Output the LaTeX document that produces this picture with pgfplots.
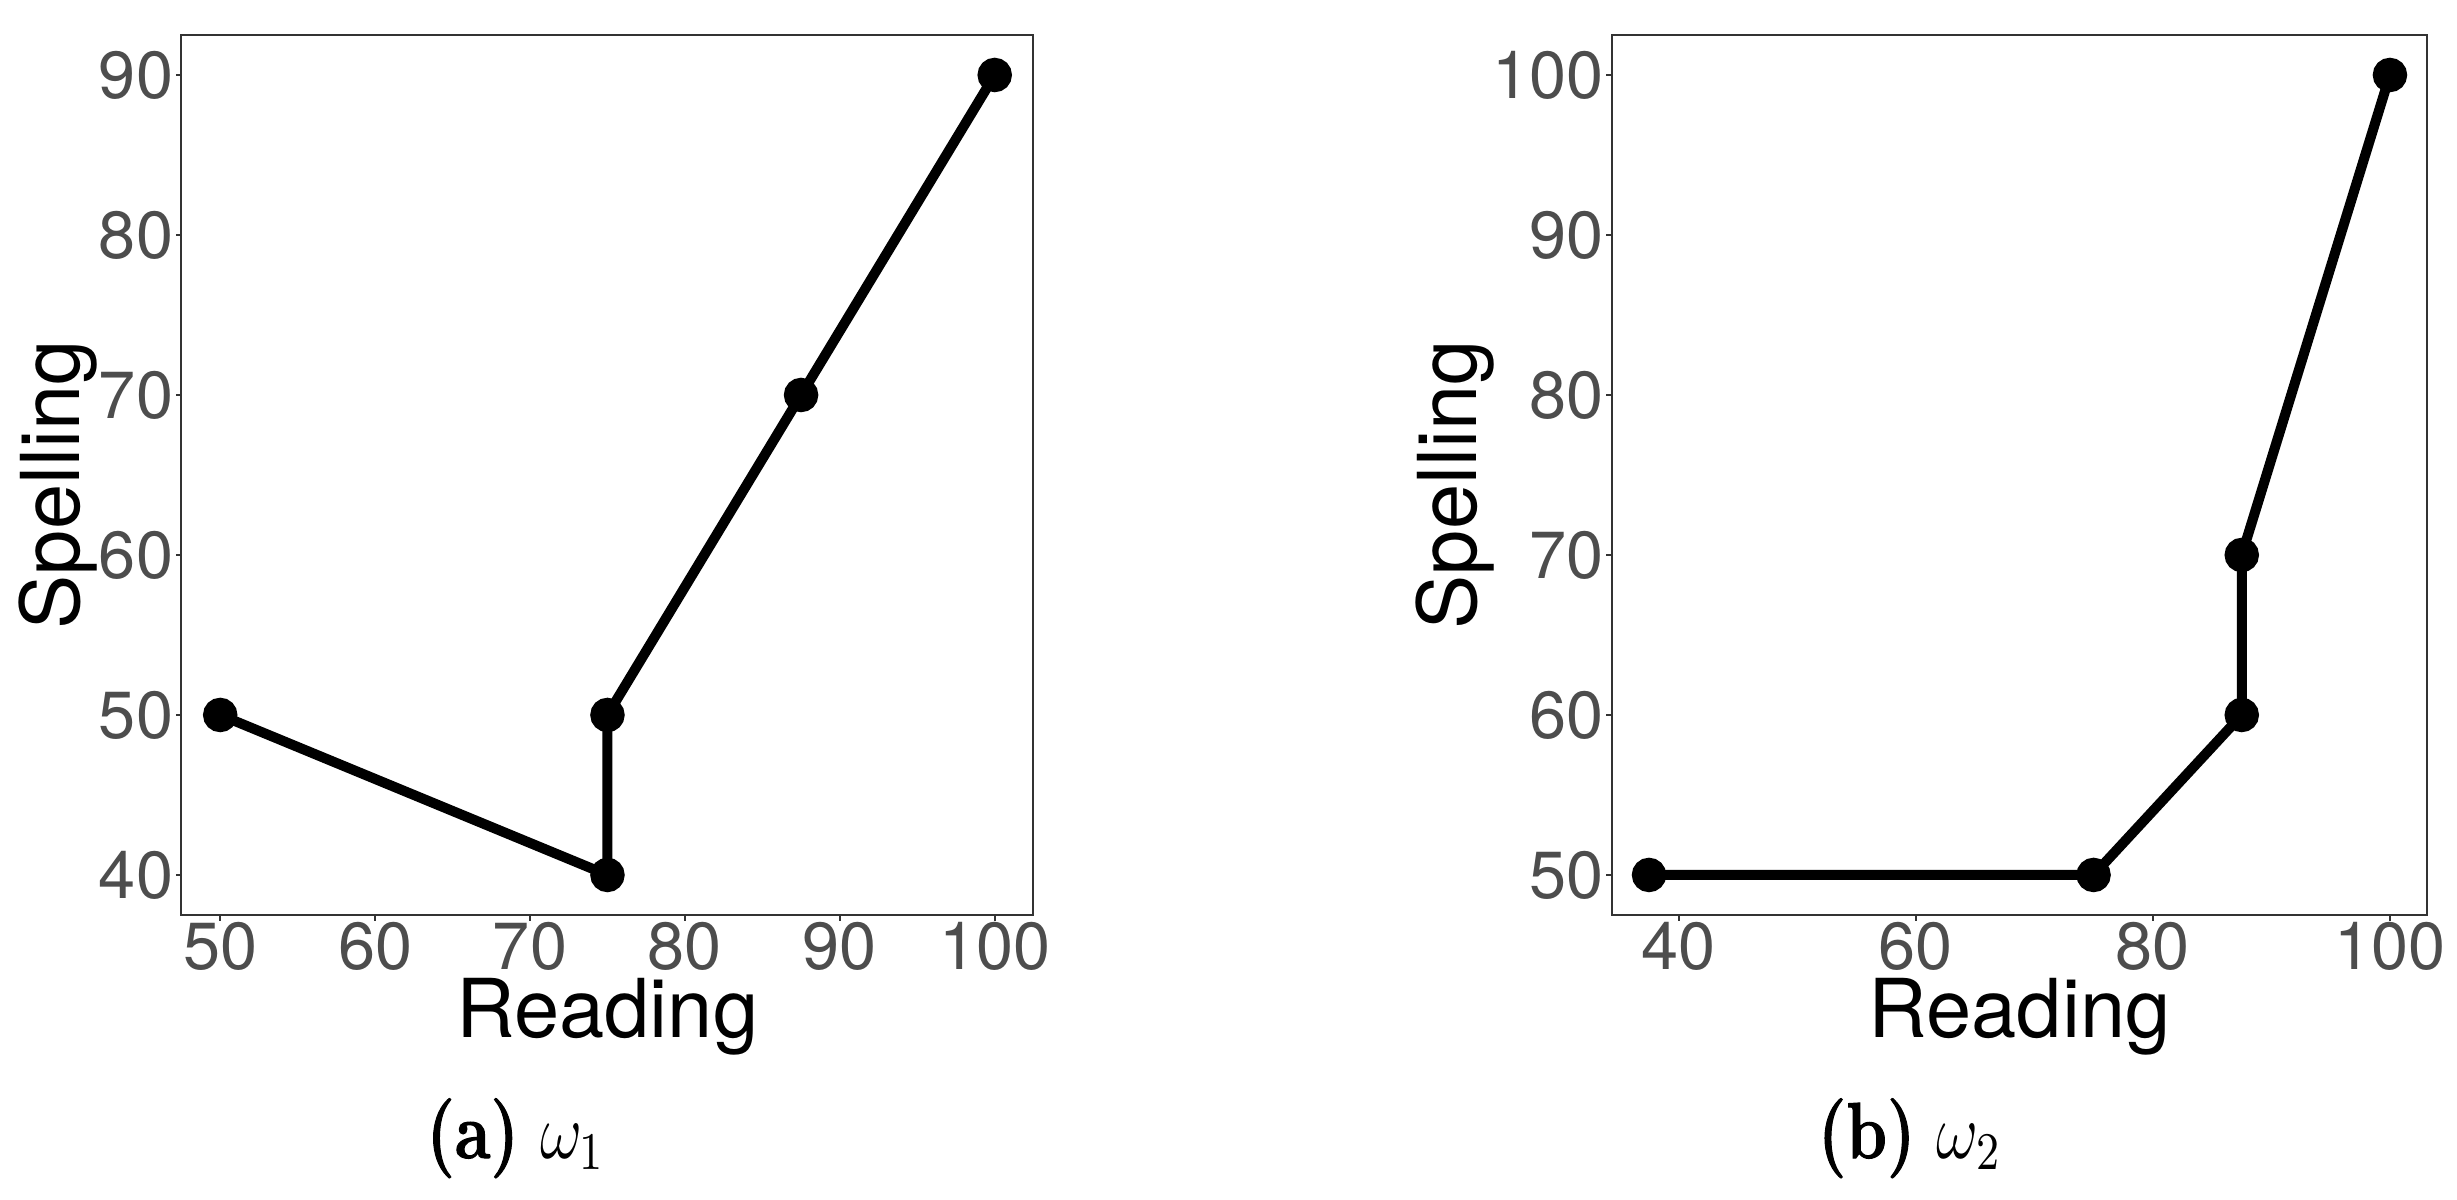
\documentclass[border=0pt]{standalone}
\usepackage{fontspec}
\usepackage{graphicx}
\usepackage{pgfplots}
\pgfplotsset{compat=1.18}
\newfontfamily\hel{TeX Gyre Heros}
\newfontface\lmbx{lmroman12-bold.otf}[FakeBold=1.5]
\definecolor{gtwenty}{HTML}{333333}
\definecolor{gthirty}{HTML}{4D4D4D}

\pgfplotsset{
  ggbox/.style={
    scale only axis, height=162.44pt,
    axis line style={gtwenty, line width=0.37pt},
    tick align=outside, major tick length=1.05pt,
    tick style={gtwenty, line width=0.37pt},
    xtick pos=lower, ytick pos=left,
    tick label style={font=\hel\fontsize{12.3}{14}\selectfont, text=gthirty, inner sep=0pt},
    /pgf/number format/assume math mode=true,
    xticklabel style={anchor=north, yshift=-0.1pt},
    yticklabel style={anchor=east, xshift=-0.3pt},
    label style={font=\hel\fontsize{15}{18}\selectfont, text=black},
    xlabel style={at={(axis description cs:0.5,-0.1390)}, anchor=base},
    xlabel=Reading, ylabel=Spelling,
    clip=false,
  },
  ggline/.style={black, line width=1.85pt, mark=*, mark size=2.25pt, mark options={solid, fill=black}},
}

\begin{document}
\begin{tikzpicture}
% (a) omega_1
\begin{axis}[ggbox, width=157.27pt,
  at={(33.50pt,-6.46pt)}, anchor=north west,
  xmin=47.5, xmax=102.5, xtick={50,60,70,80,90,100},
  ymin=37.5, ymax=92.5, ytick={40,50,60,70,80,90},
  ylabel style={at={(axis description cs:-0.1192,0.4889)}, anchor=base},
]
\addplot[ggline] coordinates {(50,50) (75,40) (75,50) (87.5,70) (100,90)};
\end{axis}
% (b) omega_2
\begin{axis}[ggbox, width=150.44pt,
  at={(297.56pt,-6.46pt)}, anchor=north west,
  xmin=34.375, xmax=103.125, xtick={40,60,80,100},
  ymin=47.5, ymax=102.5, ytick={50,60,70,80,90,100},
  ylabel style={at={(axis description cs:-0.1657,0.4889)}, anchor=base},
]
\addplot[ggline] coordinates {(37.5,50) (75,50) (87.5,60) (87.5,70) (100,100)};
\end{axis}
\node[anchor=base] at (95.25pt,-213.76pt) {\scalebox{1}[1.22]{\fontsize{12}{14}\selectfont{\lmbx (a)} $\omega_1$}};
\node[anchor=base] at (352.57pt,-213.76pt) {\scalebox{1}[1.22]{\fontsize{12}{14}\selectfont{\lmbx (b)} $\omega_2$}};
\pgfresetboundingbox
\path (0pt,0pt) rectangle (453.54pt,-221.5pt);
\end{tikzpicture}
\end{document}
